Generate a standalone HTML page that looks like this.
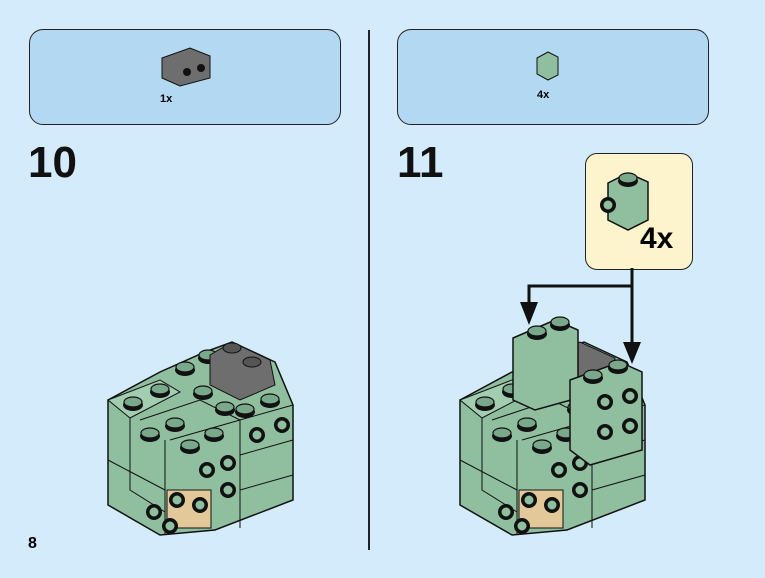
<!DOCTYPE html>
<html><head><style>
body{margin:0;width:765px;height:578px;background:#d3ebfb;font-family:"Liberation Sans",sans-serif;position:relative;overflow:hidden}
.box{position:absolute;background:#b3d8f2;border:1.5px solid #222;border-radius:14px}
.num{position:absolute;font-weight:bold;font-size:44px;color:#111}
</style></head><body>
<div class="box" style="left:29px;top:29px;width:310px;height:94px"></div>
<div class="box" style="left:397px;top:29px;width:310px;height:94px"></div>
<div style="position:absolute;left:368px;top:30px;width:2px;height:520px;background:#222"></div>
<div class="num" style="left:28px;top:138px">10</div>
<div class="num" style="left:397px;top:138px">11</div>
<div style="position:absolute;left:28px;top:535px;font-weight:bold;font-size:16px">8</div>
<div style="position:absolute;left:160px;top:93px;font-weight:bold;font-size:11px">1x</div>
<div style="position:absolute;left:537px;top:89px;font-weight:bold;font-size:11px">4x</div>
<div style="position:absolute;left:585px;top:153px;width:106px;height:115px;background:#fdf3cd;border:1.5px solid #222;border-radius:12px"></div>
<div style="position:absolute;left:640px;top:222px;font-weight:bold;font-size:30px">4x</div>
<svg width="765" height="578" style="position:absolute;left:0;top:0">
<defs>
<g id="stud"><ellipse cx="0" cy="0" rx="10" ry="6" fill="#111"/><ellipse cx="0" cy="-3" rx="9" ry="5" fill="#7aa88a" stroke="#111" stroke-width="1.2"/></g>
<g id="side"><circle r="8" fill="#111"/><circle r="5" fill="#8fbf9f" stroke="#111"/></g>
<g id="model">
<polygon points="108,400 160,372 205,352 232,342 275,362 293,405 293,500 215,530 160,535 108,505" fill="#8fbf9f" stroke="#111" stroke-width="1.5"/>
<polygon points="108,400 160,380 180,392 130,418" fill="#a3cdb0" stroke="#111"/>
<polyline points="130,418 130,490 165,512" fill="none" stroke="#111"/>
<polyline points="170,440 240,420 293,405" fill="none" stroke="#111"/>
<polyline points="165,440 165,535" fill="none" stroke="#111"/>
<polyline points="240,420 240,528" fill="none" stroke="#111"/>
<polyline points="240,455 293,440" fill="none" stroke="#111"/>
<polyline points="240,490 293,475" fill="none" stroke="#111"/>
<polyline points="108,460 165,490" fill="none" stroke="#111"/>
<polyline points="140,420 200,400 240,420" fill="none" stroke="#111"/>
<use href="#stud" x="133" y="405"/><use href="#stud" x="160" y="392"/>
<use href="#stud" x="185" y="370"/><use href="#stud" x="208" y="358"/>
<use href="#stud" x="203" y="394"/><use href="#stud" x="225" y="410"/>
<use href="#stud" x="150" y="436"/><use href="#stud" x="175" y="426"/>
<use href="#stud" x="190" y="448"/><use href="#stud" x="214" y="436"/>
<use href="#stud" x="245" y="412"/><use href="#stud" x="270" y="402"/>
<use href="#side" x="257" y="435"/><use href="#side" x="282" y="425"/>
<use href="#side" x="207" y="470"/><use href="#side" x="228" y="463"/>
<use href="#side" x="228" y="490"/>
<rect x="167" y="490" width="44" height="38" fill="#e3c99a" stroke="#111"/>
<use href="#side" x="177" y="500"/><use href="#side" x="200" y="505"/>
<use href="#side" x="154" y="512"/><use href="#side" x="170" y="526"/>
</g>
</defs>
<use href="#model"/>
<polygon points="210,355 232,342 270,360 275,385 240,400 210,385" fill="#6e6e6e" stroke="#111"/>
<ellipse cx="232" cy="348" rx="9" ry="5" fill="#555" stroke="#111"/><ellipse cx="252" cy="362" rx="9" ry="5" fill="#555" stroke="#111"/>
<g transform="translate(352,0)"><use href="#model"/></g>
<polygon points="560,350 580,342 615,358 612,390 570,390" fill="#6e6e6e" stroke="#111"/>
<polygon points="513,338 555,320 578,330 578,398 535,410 513,400" fill="#8fbf9f" stroke="#111" stroke-width="1.5"/>
<use href="#stud" x="537" y="334"/><use href="#stud" x="560" y="325"/>
<polygon points="570,380 620,362 642,372 642,450 590,465 570,450" fill="#8fbf9f" stroke="#111" stroke-width="1.5"/>
<use href="#stud" x="593" y="378"/><use href="#stud" x="618" y="368"/>
<use href="#side" x="605" y="402"/><use href="#side" x="630" y="396"/>
<use href="#side" x="605" y="432"/><use href="#side" x="630" y="426"/>
<polygon points="522,328 565,310 565,300 522,300" fill="none"/>
<polyline points="632,268 632,345" stroke="#111" stroke-width="3" fill="none"/>
<polyline points="632,286 529,286 529,303" stroke="#111" stroke-width="3" fill="none"/>
<polygon points="520,302 538,302 529,325" fill="#111"/>
<polygon points="623,342 641,342 632,364" fill="#111"/>
<polygon points="162,58 190,48 210,56 210,78 180,86 162,78" fill="#6e6e6e" stroke="#111"/>
<circle cx="187" cy="72" r="4" fill="#111"/><circle cx="201" cy="68" r="4" fill="#111"/>
<polygon points="537,58 548,52 558,57 558,75 548,80 537,74" fill="#8fbf9f" stroke="#111"/>
<polygon points="608,183 628,173 648,182 648,220 628,230 608,220" fill="#8fbf9f" stroke="#111" stroke-width="1.5"/>
<use href="#stud" x="628" y="181"/><use href="#side" x="608" y="205"/>
</svg>
</body></html>
